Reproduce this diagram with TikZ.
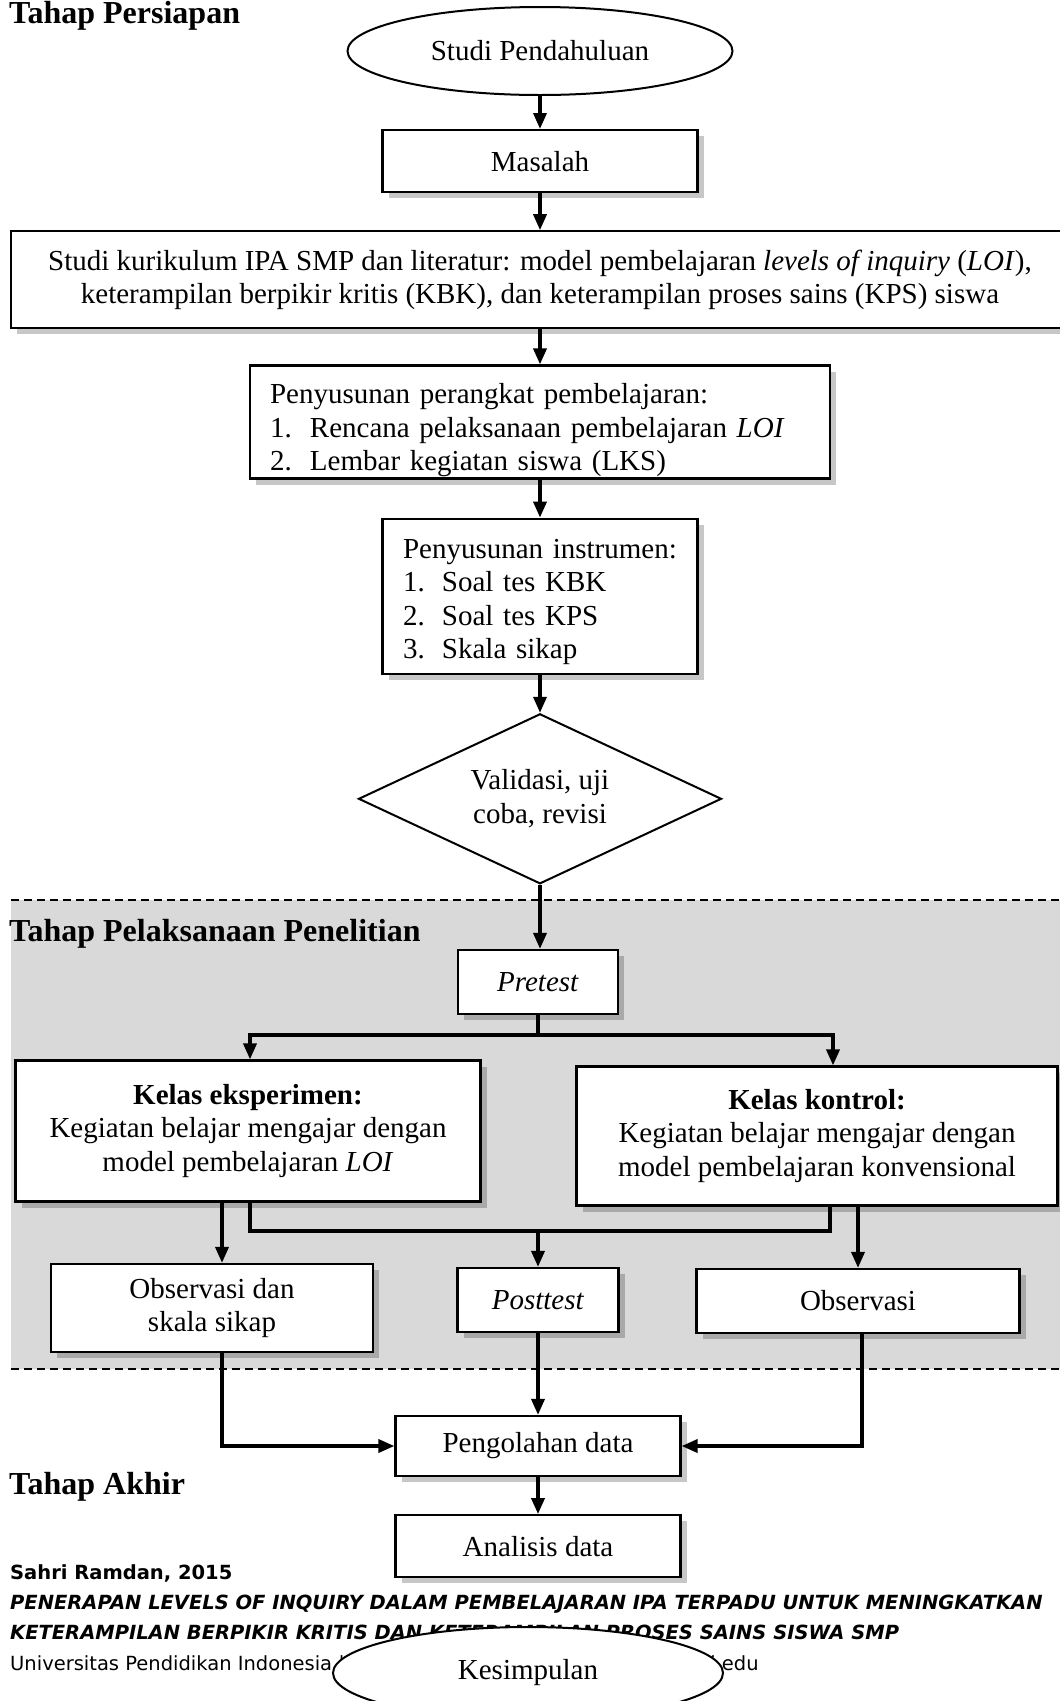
\documentclass[tikz,border=0pt]{standalone}
\usepackage{fontspec}
\setmainfont{Liberation Serif}
\newfontfamily\footfont{DejaVu Sans}
\usepackage{tikz}
\definecolor{phasegray}{HTML}{D9D9D9}
\usetikzlibrary{arrows.meta, positioning, shapes.geometric, shadows}
\tikzset{
	fbox/.style={draw=black, fill=white, line width=2.2pt, align=center, inner sep=6pt,
		font=\fontsize{29}{33.5}\selectfont,
		drop shadow={shadow xshift=6pt, shadow yshift=-6pt, fill=black, opacity=0.22}},
	fterm/.style={ellipse, draw=black, fill=white, line width=2pt, inner sep=0pt,
		minimum width=385pt, minimum height=88pt, font=\fontsize{29}{33.5}\selectfont},
	fdec/.style={diamond, aspect=2.1, draw=black, fill=white, line width=2pt, inner sep=0pt,
		align=center, minimum width=363pt, minimum height=170pt, font=\fontsize{29}{33.5}\selectfont},
	farr/.style={-{Triangle[length=16pt, width=13pt]}, line width=3.5pt},
	fline/.style={line width=3.5pt},
	phase/.style={anchor=base west, inner sep=0pt, font=\fontsize{32}{36}\selectfont\bfseries},
	foot/.style={anchor=base west, inner sep=0pt, font=\footfont\fontsize{19.5}{24}\selectfont},
	footbold/.style={foot, font=\footfont\fontsize{19.5}{24}\selectfont\bfseries},
	foottitle/.style={foot, font=\footfont\fontsize{19.5}{24}\selectfont\bfseries\itshape},
	sepline/.style={line width=2pt, dash pattern=on 8pt off 5pt}
}

\begin{document}
\begin{tikzpicture}[x=1pt, y=-1pt]
	\useasboundingbox (0,0) rectangle (1060,1701);
	% middle phase band
	\fill[phasegray] (11,900) rectangle (1060,1369);
	\draw[sepline] (11,900) -- (1060,900);
	\draw[sepline] (11,1369) -- (1060,1369);

	\node[phase] (hpersiapan) at (9,23) {Tahap Persiapan};
	\node[phase] (hpelaksanaan) at (9,941) {Tahap Pelaksanaan Penelitian};
	\node[phase] (hakhir) at (9,1494) {Tahap Akhir};

	% preparation column
	\node[fterm] (studi) at (540,51) {Studi Pendahuluan};
	\node[fbox, below=33pt of studi, minimum width=315pt, minimum height=62pt] (masalah) {Masalah};
	\node[fbox, below=37pt of masalah, minimum width=1058pt, minimum height=97pt] (kurikulum)
		{Studi kurikulum IPA SMP dan literatur: model pembelajaran \textit{levels of inquiry} (\textit{LOI}),\\
		keterampilan berpikir kritis (KBK), dan keterampilan proses sains (KPS) siswa};
	\node[fbox, below=35pt of kurikulum, minimum width=580pt, minimum height=113pt,
		text width=540pt, align=left, inner ysep=0pt] (perangkat)
		{\rule{0pt}{37pt}Penyusunan perangkat pembelajaran:\\
		\makebox[40pt][l]{1.}Rencana pelaksanaan pembelajaran \textit{LOI}\\
		\makebox[40pt][l]{2.}Lembar kegiatan siswa (LKS)};
	\node[fbox, below=38pt of perangkat, minimum width=315pt, minimum height=155pt,
		text width=274pt, align=left] (instrumen)
		{\rule{0pt}{31pt}Penyusunan instrumen:\\
		\makebox[39pt][l]{1.}Soal tes KBK\\
		\makebox[39pt][l]{2.}Soal tes KPS\\
		\makebox[39pt][l]{3.}Skala sikap};
	\node[fdec, below=38pt of instrumen] (validasi) {Validasi, uji\\coba, revisi};

	% implementation
	\node[fbox, minimum width=160pt, minimum height=64pt] (pretest) at (538,982) {\textit{Pretest}};
	\node[fbox, minimum width=465pt, minimum height=141pt] (eksperimen) at (248,1131)
		{\textbf{Kelas eksperimen:}\\ Kegiatan belajar mengajar dengan\\ model pembelajaran \textit{LOI}};
	\node[fbox, minimum width=481pt, minimum height=139pt] (kontrol) at (817,1136)
		{\textbf{Kelas kontrol:}\\ Kegiatan belajar mengajar dengan\\ model pembelajaran konvensional};
	\node[fbox, minimum width=322pt, minimum height=88pt] (oskala) at (212,1308) {Observasi dan\\ skala sikap};
	\node[fbox, minimum width=161pt, minimum height=64pt] (posttest) at (538,1300) {\textit{Posttest}};
	\node[fbox, minimum width=323pt, minimum height=64pt] (observasi) at (858,1301) {Observasi};

	% final phase
	\node[fbox, minimum width=285pt, minimum height=60pt] (pengolahan) at (538,1446) {Pengolahan data};
	\node[fbox, below=37pt of pengolahan, minimum width=285pt, minimum height=62pt] (analisis) {Analisis data};

	\coordinate (jl) at (250,1035);
	\coordinate (jr) at (833,1035);
	\coordinate (ml) at (250,1231);
	\coordinate (mr) at (830,1231);

	\draw[farr] (studi) -- (masalah);
	\draw[farr] (masalah) -- (masalah.south |- kurikulum.north);
	\draw[farr] (masalah.south |- kurikulum.south) -- (masalah.south |- perangkat.north);
	\draw[farr] (masalah.south |- perangkat.south) -- (masalah.south |- instrumen.north);
	\draw[farr] (masalah.south |- instrumen.south) -- (masalah.south |- validasi.north);
	\draw[farr] (validasi.south) -- (validasi.south |- pretest.north);
	\draw[fline] (pretest.south) -- (pretest.south |- jl);
	\draw[farr] (pretest.south |- jl) -| (jl |- eksperimen.north);
	\draw[farr] (pretest.south |- jl) -| (jr |- kontrol.north);
	\draw[farr] ([xshift=-26pt]eksperimen.south) -- ([xshift=-26pt]eksperimen.south |- oskala.north);
	\draw[fline] (ml |- eksperimen.south) -- (ml) -- (mr) -- (mr |- kontrol.south);
	\draw[farr] (posttest.north |- ml) -- (posttest.north);
	\draw[farr] (kontrol.south -| observasi.north) -- (observasi.north);
	\draw[farr] ([xshift=10pt]oskala.south) |- (pengolahan.west);
	\draw[farr] (posttest) -- (pengolahan);
	\draw[farr] ([xshift=4pt]observasi.south) |- (pengolahan.east);
	\draw[farr] (pengolahan) -- (analisis);

	% page footer
	\node[footbold] (fauthor) at (10,1579) {Sahri Ramdan, 2015};
	\node[foottitle] (ftitlea) at (10,1609)
		{PENERAPAN LEVELS OF INQUIRY DALAM PEMBELAJARAN IPA TERPADU UNTUK MENINGKATKAN};
	\node[foottitle] (ftitleb) at (10,1639)
		{KETERAMPILAN BERPIKIR KRITIS DAN KETERAMPILAN PROSES SAINS SISWA SMP};
	\node[foot] (funi) at (10,1670)
		{Universitas Pendidikan Indonesia | repository.upi.edu | perpustakaan.upi.edu};

	\node[fterm, minimum width=390pt, minimum height=92pt] (kesimpulan) at (528,1673) {Kesimpulan};
\end{tikzpicture}
\end{document}
